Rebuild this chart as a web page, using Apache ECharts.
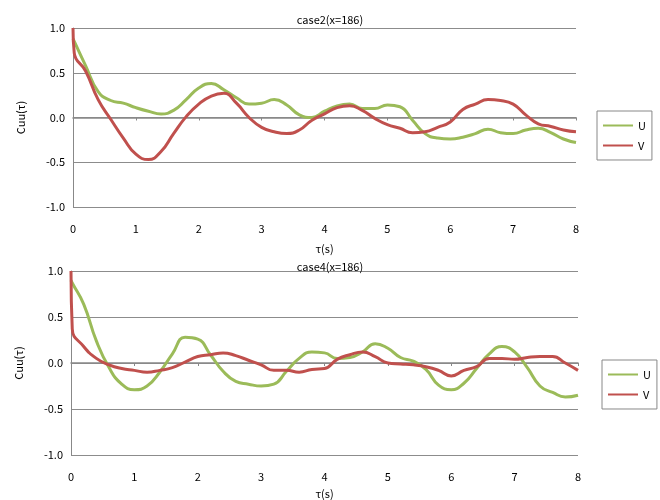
<!DOCTYPE html>
<html>
<head>
<meta charset="utf-8">
<script src="https://cdn.jsdelivr.net/npm/echarts@6/dist/echarts.min.js"></script>
<style>
  html, body { margin: 0; padding: 0; background: #fff; }
  #chart { width: 660px; height: 500px; }
</style>
</head>
<body>
<div id="chart"></div>
<script>
// lag times (s)
let tau = [0, 0.02, 0.2, 0.4, 0.6, 0.8, 1.0, 1.2, 1.4, 1.6, 1.8, 2.0, 2.2, 2.4, 2.6, 2.8, 3.0, 3.2, 3.4, 3.6, 3.8,
  4.0, 4.2, 4.4, 4.6, 4.8, 5.0, 5.2, 5.4, 5.6, 5.8, 6.0, 6.2, 6.4, 6.6, 6.8, 7.0, 7.2, 7.4, 7.6, 7.8, 8.0];

// case2
let case2U = [0.88, 0.85, 0.58, 0.29, 0.19, 0.16, 0.11, 0.07, 0.04, 0.08, 0.20, 0.33, 0.38, 0.31, 0.22, 0.15, 0.16, 0.20, 0.14, 0.03, 0.00,
  0.07, 0.13, 0.15, 0.10, 0.10, 0.14, 0.12, -0.03, -0.18, -0.23, -0.24, -0.22, -0.18, -0.13, -0.17, -0.18, -0.14, -0.12, -0.17, -0.24, -0.28];
let case2V = [1.0, 0.72, 0.52, 0.20, -0.02, -0.23, -0.41, -0.47, -0.38, -0.18, 0.01, 0.15, 0.24, 0.27, 0.16, 0.00, -0.11, -0.16, -0.18, -0.14, -0.03,
  0.04, 0.11, 0.13, 0.08, -0.01, -0.08, -0.12, -0.17, -0.16, -0.11, -0.05, 0.09, 0.15, 0.20, 0.19, 0.15, 0.03, -0.07, -0.10, -0.14, -0.16];

// case4
let case4U = [0.90, 0.87, 0.64, 0.24, -0.05, -0.23, -0.29, -0.25, -0.10, 0.10, 0.28, 0.26, 0.09, -0.09, -0.20, -0.23, -0.25, -0.23, -0.09, 0.05, 0.12,
  0.11, 0.05, 0.06, 0.12, 0.21, 0.16, 0.06, 0.02, -0.07, -0.24, -0.29, -0.22, -0.06, 0.10, 0.18, 0.12, -0.05, -0.25, -0.32, -0.37, -0.35];
let case4V = [1.0, 0.37, 0.18, 0.05, -0.02, -0.06, -0.08, -0.10, -0.08, -0.05, 0.01, 0.07, 0.09, 0.11, 0.08, 0.03, -0.02, -0.08, -0.08, -0.10, -0.07,
  -0.06, 0.04, 0.09, 0.12, 0.07, 0.00, -0.01, -0.02, -0.04, -0.08, -0.14, -0.08, -0.04, 0.05, 0.05, 0.04, 0.06, 0.07, 0.07, 0.00, -0.08];

let titles = ['case2(x=186)', 'case4(x=186)'];
let seriesNames = ['U', 'V'];
let colors = ['#9bbb59', '#c0504d'];

function pairs(xs, ys) {
  return xs.map(function (x, i) { return [x, ys[i]]; });
}

let font = '"Noto Sans CJK JP", sans-serif';

function makeX(idx, gap) {
  return {
    gridIndex: idx,
    type: 'value',
    min: 0, max: 8, interval: 1,
    name: 'τ(s)',
    nameLocation: 'middle',
    nameGap: gap,
    nameTextStyle: { color: '#000', fontSize: 11, fontFamily: font },
    axisLine: { show: true, lineStyle: { color: '#888', width: 1.5 } },
    axisTick: { show: true, length: 3, lineStyle: { color: '#888' } },
    axisLabel: { color: '#000', fontSize: 11, margin: 16, fontFamily: font },
    splitLine: { show: false }
  };
}

function makeY(idx) {
  return {
    gridIndex: idx,
    type: 'value',
    min: -1, max: 1, interval: 0.5,
    name: 'Cuu(τ)',
    nameLocation: 'middle',
    nameGap: 47,
    nameTextStyle: { color: '#000', fontSize: 11, fontFamily: font },
    axisLine: { show: true, lineStyle: { color: '#888' } },
    axisTick: { show: false },
    axisLabel: {
      color: '#000', fontSize: 11, margin: 8, fontFamily: font,
      formatter: function (v) { return v.toFixed(1); }
    },
    splitLine: { show: true, lineStyle: { color: '#8c8c8c' } }
  };
}

function makeLegend(left, top) {
  return {
    orient: 'vertical',
    left: left, top: top,
    data: seriesNames,
    icon: 'rect',
    itemWidth: 30,
    itemHeight: 2,
    itemGap: 9,
    padding: [9, 6, 9, 6],
    borderColor: '#888',
    borderWidth: 1,
    textStyle: { color: '#000', fontSize: 11, fontFamily: font }
  };
}

function makeLine(name, idx, data, color) {
  return {
    name: name,
    type: 'line',
    xAxisIndex: idx,
    yAxisIndex: idx,
    data: data,
    showSymbol: false,
    smooth: 0.5,
    color: color,
    lineStyle: { width: 3, color: color },
    animation: false
  };
}

let chart = echarts.init(document.getElementById('chart'));
let option = {
  backgroundColor: '#fff',
  animation: false,
  title: [
    { text: titles[0], left: 'center', top: 9, textStyle: { fontSize: 11, fontWeight: 'normal', color: '#000', fontFamily: font } },
    { text: titles[1], left: 'center', top: 256, textStyle: { fontSize: 11, fontWeight: 'normal', color: '#000', fontFamily: font } }
  ],
  legend: [makeLegend(597, 111), makeLegend(602, 360)],
  grid: [
    { left: 73, top: 28, width: 503, height: 179 },
    { left: 71, top: 271, width: 507, height: 186 }
  ],
  xAxis: [makeX(0, 36), makeX(1, 33)],
  yAxis: [makeY(0), makeY(1)],
  series: [
    makeLine('U', 0, pairs(tau, case2U), colors[0]),
    makeLine('V', 0, pairs(tau, case2V), colors[1]),
    makeLine('U', 1, pairs(tau, case4U), colors[0]),
    makeLine('V', 1, pairs(tau, case4V), colors[1])
  ]
};
chart.setOption(option);
</script>
</body>
</html>
